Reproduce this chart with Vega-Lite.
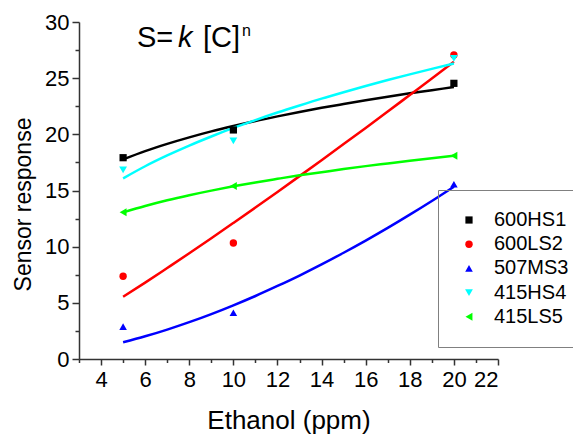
{
  "$schema": "https://vega.github.io/schema/vega-lite/v6.json",
  "width": 419,
  "height": 337,
  "autosize": {"type": "none"},
  "padding": {"left": 79, "top": 22, "right": 75, "bottom": 75},
  "background": "white",
  "config": {
    "font": "Liberation Sans",
    "view": {"stroke": null},
    "axis": {"grid": false, "domainColor": "#333333", "domainWidth": 1.5, "tickColor": "#333333", "tickWidth": 1.5, "labelColor": "#000000", "titleColor": "#000000", "labelFont": "Liberation Sans", "titleFont": "Liberation Sans", "titleFontWeight": "normal"},
    "legend": {"orient": "none", "legendX": 359, "legendY": 168, "padding": 20, "rowPadding": 4.2, "labelFontSize": 20, "labelFont": "Liberation Sans", "labelColor": "#000000", "labelOffset": 15, "symbolOffset": 1, "strokeColor": "#808080", "symbolStrokeWidth": 0}
  },
  "datasets": {
    "obs": [
      {"series": "600HS1", "x": 5, "y": 17.92},
      {"series": "600HS1", "x": 10, "y": 20.39},
      {"series": "600HS1", "x": 20, "y": 24.54},
      {"series": "600LS2", "x": 5, "y": 7.36},
      {"series": "600LS2", "x": 10, "y": 10.33},
      {"series": "600LS2", "x": 20, "y": 27.06},
      {"series": "507MS3", "x": 5, "y": 2.88},
      {"series": "507MS3", "x": 10, "y": 4.12},
      {"series": "507MS3", "x": 20, "y": 15.55},
      {"series": "415HS4", "x": 5, "y": 16.83},
      {"series": "415HS4", "x": 10, "y": 19.41},
      {"series": "415HS4", "x": 20, "y": 26.77},
      {"series": "415LS5", "x": 5, "y": 13.06},
      {"series": "415LS5", "x": 10, "y": 15.4},
      {"series": "415LS5", "x": 20, "y": 18.1}
    ],
    "fit": [
      {"series": "600HS1", "x": 5, "y": 17.77}, {"series": "600HS1", "x": 6, "y": 18.51}, {"series": "600HS1", "x": 7, "y": 19.15}, {"series": "600HS1", "x": 8, "y": 19.73}, {"series": "600HS1", "x": 9, "y": 20.26}, {"series": "600HS1", "x": 10, "y": 20.74}, {"series": "600HS1", "x": 11, "y": 21.19}, {"series": "600HS1", "x": 12, "y": 21.6}, {"series": "600HS1", "x": 13, "y": 21.99}, {"series": "600HS1", "x": 14, "y": 22.36}, {"series": "600HS1", "x": 15, "y": 22.7}, {"series": "600HS1", "x": 16, "y": 23.03}, {"series": "600HS1", "x": 17, "y": 23.35}, {"series": "600HS1", "x": 18, "y": 23.65}, {"series": "600HS1", "x": 19, "y": 23.93}, {"series": "600HS1", "x": 20, "y": 24.21},
      {"series": "600LS2", "x": 5, "y": 5.54}, {"series": "600LS2", "x": 6, "y": 6.8}, {"series": "600LS2", "x": 7, "y": 8.1}, {"series": "600LS2", "x": 8, "y": 9.41}, {"series": "600LS2", "x": 9, "y": 10.75}, {"series": "600LS2", "x": 10, "y": 12.11}, {"series": "600LS2", "x": 11, "y": 13.48}, {"series": "600LS2", "x": 12, "y": 14.87}, {"series": "600LS2", "x": 13, "y": 16.28}, {"series": "600LS2", "x": 14, "y": 17.7}, {"series": "600LS2", "x": 15, "y": 19.13}, {"series": "600LS2", "x": 16, "y": 20.57}, {"series": "600LS2", "x": 17, "y": 22.03}, {"series": "600LS2", "x": 18, "y": 23.5}, {"series": "600LS2", "x": 19, "y": 24.97}, {"series": "600LS2", "x": 20, "y": 26.46},
      {"series": "507MS3", "x": 5, "y": 1.49}, {"series": "507MS3", "x": 6, "y": 2.02}, {"series": "507MS3", "x": 7, "y": 2.62}, {"series": "507MS3", "x": 8, "y": 3.28}, {"series": "507MS3", "x": 9, "y": 4.0}, {"series": "507MS3", "x": 10, "y": 4.78}, {"series": "507MS3", "x": 11, "y": 5.61}, {"series": "507MS3", "x": 12, "y": 6.5}, {"series": "507MS3", "x": 13, "y": 7.43}, {"series": "507MS3", "x": 14, "y": 8.42}, {"series": "507MS3", "x": 15, "y": 9.46}, {"series": "507MS3", "x": 16, "y": 10.54}, {"series": "507MS3", "x": 17, "y": 11.67}, {"series": "507MS3", "x": 18, "y": 12.85}, {"series": "507MS3", "x": 19, "y": 14.07}, {"series": "507MS3", "x": 20, "y": 15.34},
      {"series": "415HS4", "x": 5, "y": 16.08}, {"series": "415HS4", "x": 6, "y": 17.16}, {"series": "415HS4", "x": 7, "y": 18.12}, {"series": "415HS4", "x": 8, "y": 19.0}, {"series": "415HS4", "x": 9, "y": 19.81}, {"series": "415HS4", "x": 10, "y": 20.57}, {"series": "415HS4", "x": 11, "y": 21.27}, {"series": "415HS4", "x": 12, "y": 21.94}, {"series": "415HS4", "x": 13, "y": 22.57}, {"series": "415HS4", "x": 14, "y": 23.18}, {"series": "415HS4", "x": 15, "y": 23.75}, {"series": "415HS4", "x": 16, "y": 24.3}, {"series": "415HS4", "x": 17, "y": 24.83}, {"series": "415HS4", "x": 18, "y": 25.34}, {"series": "415HS4", "x": 19, "y": 25.83}, {"series": "415HS4", "x": 20, "y": 26.3},
      {"series": "415LS5", "x": 5, "y": 13.05}, {"series": "415LS5", "x": 6, "y": 13.62}, {"series": "415LS5", "x": 7, "y": 14.13}, {"series": "415LS5", "x": 8, "y": 14.58}, {"series": "415LS5", "x": 9, "y": 14.99}, {"series": "415LS5", "x": 10, "y": 15.37}, {"series": "415LS5", "x": 11, "y": 15.72}, {"series": "415LS5", "x": 12, "y": 16.04}, {"series": "415LS5", "x": 13, "y": 16.35}, {"series": "415LS5", "x": 14, "y": 16.63}, {"series": "415LS5", "x": 15, "y": 16.91}, {"series": "415LS5", "x": 16, "y": 17.17}, {"series": "415LS5", "x": 17, "y": 17.41}, {"series": "415LS5", "x": 18, "y": 17.65}, {"series": "415LS5", "x": 19, "y": 17.88}, {"series": "415LS5", "x": 20, "y": 18.09}
    ]
  },
  "layer": [
    {
      "data": {"name": "fit"},
      "mark": {"type": "line", "strokeWidth": 2.5, "interpolate": "monotone"},
      "encoding": {
        "x": {"field": "x", "type": "quantitative", "scale": {"domain": [3, 22], "nice": false, "zero": false},
          "axis": {"orient": "bottom", "values": [4, 6, 8, 10, 12, 14, 16, 18, 20, 22], "tickSize": 6, "labelFontSize": 22, "labelPadding": 4, "title": "Ethanol (ppm)", "titleFontSize": 26, "titleY": 69, "titleBaseline": "alphabetic"}},
        "y": {"field": "y", "type": "quantitative", "scale": {"domain": [0, 30], "nice": false},
          "axis": {"orient": "left", "values": [0, 5, 10, 15, 20, 25, 30], "tickSize": 7, "labelFontSize": 22, "labelPadding": 3, "title": "Sensor response", "titleFontSize": 23, "titleX": -49, "titleY": 182, "titleAngle": 270, "titleBaseline": "alphabetic", "titleAlign": "center"}},
        "stroke": {"field": "series", "type": "nominal", "scale": {"domain": ["415HS4", "415LS5", "507MS3", "600HS1", "600LS2"], "range": ["#00ffff", "#00ff00", "#0000ff", "#000000", "#ff0000"]}, "legend": null}
      }
    },
    {
      "data": {"name": "obs"},
      "mark": {"type": "point", "filled": true, "opacity": 1},
      "encoding": {
        "x": {"field": "x", "type": "quantitative",
          "axis": {"orient": "bottom", "values": [3, 5, 7, 9, 11, 13, 15, 17, 19, 21], "tickSize": 3.5, "labels": false, "domain": false, "title": null}},
        "y": {"field": "y", "type": "quantitative",
          "axis": {"orient": "left", "values": [2.5, 7.5, 12.5, 17.5, 22.5, 27.5], "tickSize": 4, "labels": false, "domain": false, "title": null}},
        "color": {"field": "series", "type": "nominal", "title": null, "scale": {"domain": ["600HS1", "600LS2", "507MS3", "415HS4", "415LS5"], "range": ["#000000", "#ff0000", "#0000ff", "#00ffff", "#00ff00"]}},
        "shape": {"field": "series", "type": "nominal", "title": null, "scale": {"domain": ["600HS1", "600LS2", "507MS3", "415HS4", "415LS5"], "range": ["square", "circle", "triangle-up", "triangle-down", "triangle-left"]}},
        "size": {"field": "series", "type": "nominal", "title": null, "scale": {"domain": ["600HS1", "600LS2", "507MS3", "415HS4", "415LS5"], "range": [52, 64, 95, 95, 95]}}
      }
    },
    {
      "data": {"values": [{}]},
      "mark": {"type": "text", "fontSize": 29, "align": "left", "baseline": "alphabetic", "color": "#000000"},
      "encoding": {"x": {"datum": 5.63, "type": "quantitative", "axis": null}, "y": {"datum": 27.8, "type": "quantitative", "axis": null}, "text": {"value": "S="}}
    },
    {
      "data": {"values": [{}]},
      "mark": {"type": "text", "fontSize": 29, "fontStyle": "italic", "align": "left", "baseline": "alphabetic", "color": "#000000"},
      "encoding": {"x": {"datum": 7.49, "type": "quantitative", "axis": null}, "y": {"datum": 27.8, "type": "quantitative", "axis": null}, "text": {"value": "k"}}
    },
    {
      "data": {"values": [{}]},
      "mark": {"type": "text", "fontSize": 29, "align": "left", "baseline": "alphabetic", "color": "#000000"},
      "encoding": {"x": {"datum": 8.62, "type": "quantitative", "axis": null}, "y": {"datum": 27.8, "type": "quantitative", "axis": null}, "text": {"value": "[C]"}}
    },
    {
      "data": {"values": [{}]},
      "mark": {"type": "text", "fontSize": 16, "align": "left", "baseline": "alphabetic", "color": "#000000"},
      "encoding": {"x": {"datum": 10.39, "type": "quantitative", "axis": null}, "y": {"datum": 28.75, "type": "quantitative", "axis": null}, "text": {"value": "n"}}
    }
  ],
  "resolve": {"axis": {"x": "independent", "y": "independent"}}
}
